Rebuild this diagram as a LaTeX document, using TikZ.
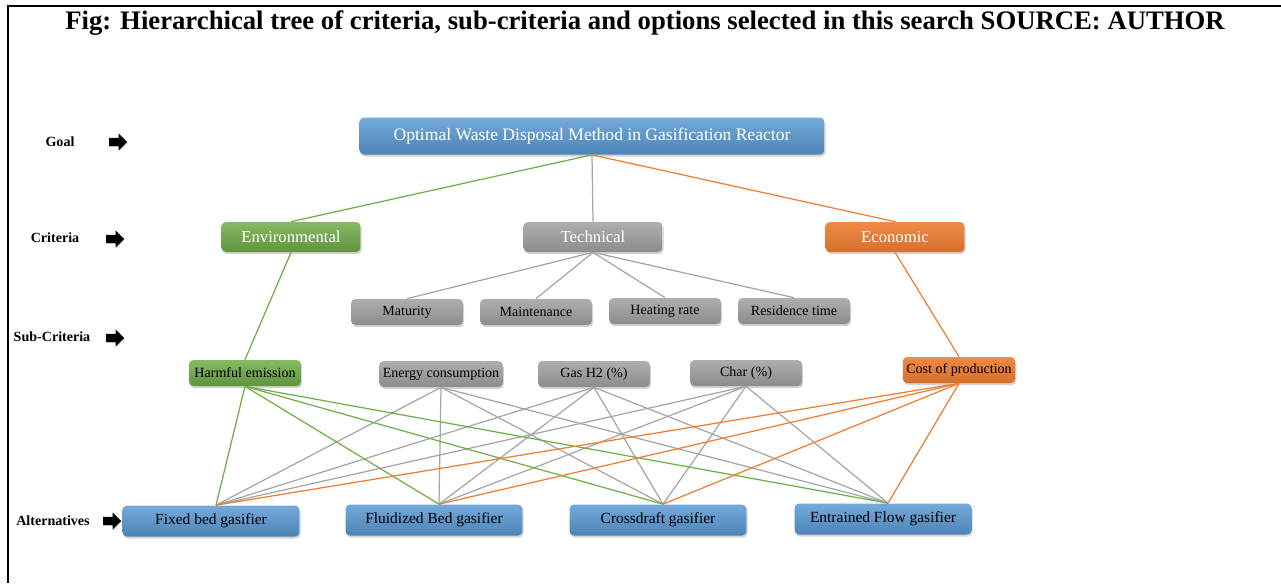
\documentclass[tikz,border=0pt]{standalone}
\usepackage{fontspec}
\setmainfont{Liberation Serif}
\usepackage{xcolor}
\usetikzlibrary{shapes, arrows, positioning, calc, shadows}
\definecolor{goalblue}{HTML}{5B9BD5}
\definecolor{envgreen}{HTML}{70AD47}
\definecolor{techgray}{HTML}{A5A5A5}
\definecolor{ecoorange}{HTML}{ED7D31}
\tikzset{
    box/.style={
        rectangle,
        rounded corners=2.5pt,
        drop shadow={opacity=0.35, shadow xshift=0.6pt, shadow yshift=-1.2pt},
        inner sep=2pt,
    },
    bluebox/.style={
        box,
        top color=goalblue!85!white,
        bottom color=goalblue!85!black,
    },
    greenbox/.style={
        box,
        top color=envgreen!85!white,
        bottom color=envgreen!85!black,
    },
    graybox/.style={
        box,
        top color=techgray!90!white,
        bottom color=techgray!85!black,
    },
    orangebox/.style={
        box,
        top color=ecoorange!90!white,
        bottom color=ecoorange!90!black,
    },
    goal/.style={bluebox, text=white, minimum width=9.3cm, minimum height=0.74cm, font=\fontsize{10}{12}\selectfont},
    crit/.style={minimum width=2.78cm, minimum height=0.6cm, text=white, font=\fontsize{9.5}{11}\selectfont},
    sub/.style={minimum width=2.24cm, minimum height=0.52cm, font=\fontsize{8}{10}\selectfont},
    alt/.style={bluebox, minimum width=3.54cm, minimum height=0.62cm, font=\fontsize{8.8}{10}\selectfont},
    lvl/.style={font=\bfseries\fontsize{8}{10}\selectfont},
    lvlarrow/.style={single arrow, fill=black, draw=none, inner sep=1.6pt,
        minimum width=0.34cm, minimum height=0.36cm, single arrow head extend=0.07cm,
        drop shadow={opacity=0.3, shadow xshift=0.5pt, shadow yshift=-0.5pt}},
    gline/.style={envgreen, line width=0.7pt},
    tline/.style={techgray, line width=0.7pt},
    oline/.style={ecoorange, line width=0.7pt},
}

\begin{document}
\begin{tikzpicture}[x=0.02cm, y=-0.02cm]
    \useasboundingbox (0,0) rectangle (1281,583);
    \draw[line width=1.6pt] (1281,6) -- (8,6) -- (8,583);

    \node (title) at (645,23) {\bfseries\fontsize{15.2}{17}\selectfont Fig: Hierarchical tree of criteria, sub-criteria and options selected in this search SOURCE: AUTHOR};

    % level labels
    \node [lvl] (l-goal) at (60,142) {Goal};
    \node [lvlarrow] (a-goal) at (116,142) {};
    \node [lvl] (l-crit) at (55,238) {Criteria};
    \node [lvlarrow] (a-crit) at (113,239) {};
    \node [lvl] (l-sub) at (52,337) {Sub-Criteria};
    \node [lvlarrow] (a-sub) at (113,338) {};
    \node [lvl] (l-alt) at (53,521) {Alternatives};
    \node [lvlarrow] (a-alt) at (110,521) {};

    % goal and criteria
    \node [goal] (G) at (592,136) {Optimal Waste Disposal Method in Gasification Reactor};
    \node [greenbox, crit] (env) at (291,237) {Environmental};
    \node [graybox, crit] (tech) at (593,237) {Technical};
    \node [orangebox, crit] (eco) at (895,237) {Economic};

    % sub-criteria
    \node [graybox, sub] (mat) at (407,312) {Maturity};
    \node [graybox, sub] (maint) at (536,312) {Maintenance};
    \node [graybox, sub] (heat) at (665,311) {Heating rate};
    \node [graybox, sub] (res) at (794,311) {Residence time};
    \node [greenbox, sub] (harm) at (245,373) {Harmful emission};
    \node [graybox, sub] (energy) at (441,374) {Energy consumption};
    \node [graybox, sub] (gas) at (594,374) {Gas H2 (\%)};
    \node [graybox, sub] (char) at (746,373) {Char (\%)};
    \node [orangebox, sub] (cost) at (959,370) {Cost of production};

    % alternatives
    \node [alt] (fixed) at (211,521) {Fixed bed gasifier};
    \node [alt] (fluid) at (434,520) {Fluidized Bed gasifier};
    \node [alt] (cross) at (658,520) {Crossdraft gasifier};
    \node [alt] (entr) at (883,519) {Entrained Flow gasifier};

    \path[gline] (G.south) edge (env.north);
    \path[tline] (G.south) edge (tech.north);
    \path[oline] (G.south) edge (eco.north);
    \path[gline] (env.south) edge (harm.north);
    \path[oline] (eco.south) edge (cost.north);
    \foreach \s in {mat, maint, heat, res}
        \path[tline] (tech.south) edge (\s.north);

    \foreach \s/\c in {energy/tline, gas/tline, char/tline, harm/gline, cost/oline}
        \foreach \a in {fixed, fluid, cross, entr}
            \path[\c] (\s.south) edge ($(\a.north)+(5,0)$);
\end{tikzpicture}
\end{document}
